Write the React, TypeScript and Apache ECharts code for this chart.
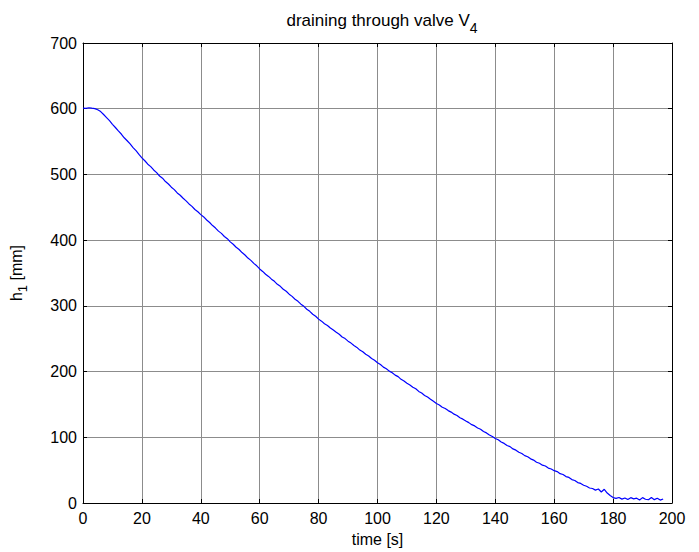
import React, { useEffect, useRef } from "react";
import * as echarts from "echarts";

const chartTitle = "draining through valve V{sub|4}";
const xAxisName = "time [s]";
const yAxisName = "h{sub|1} [mm]";
const xTicks = [0, 20, 40, 60, 80, 100, 120, 140, 160, 180, 200];
const yTicks = [0, 100, 200, 300, 400, 500, 600, 700];
const sampleStep = 1; // seconds between samples
const levelMm = [
  601.0, 600.5, 601.5, 600.8, 600.2, 598.4, 595.6, 591.2, 586.5, 581.8,
  576.3, 571.4, 566.2, 561.5, 555.8, 551.2, 546.4, 540.7, 536.1, 530.4,
  525.3, 520.8, 515.6, 511.9, 506.8, 502.7, 497.6, 494.3, 489.2, 485.4,
  480.6, 476.9, 471.8, 468.3, 463.7, 459.8, 455.1, 451.4, 446.6, 443.2,
  438.8, 435.3, 430.7, 426.9, 422.2, 418.4, 413.7, 410.3, 405.6, 402.2,
  397.4, 393.8, 389.2, 385.7, 381.1, 377.4, 372.7, 369.2, 364.6, 360.9,
  356.2, 352.4, 348.1, 344.8, 340.6, 337.3, 332.8, 329.7, 325.2, 322.3,
  317.8, 314.4, 310.1, 306.9, 302.6, 299.3, 294.8, 291.7, 287.3, 284.2,
  279.8, 276.7, 272.8, 270.2, 266.3, 263.2, 259.7, 256.8, 252.7, 250.2,
  246.3, 243.3, 239.6, 236.8, 232.7, 230.2, 226.3, 223.7, 219.8, 217.2,
  213.4, 210.7, 206.8, 204.3, 200.7, 198.2, 194.6, 192.3, 188.2, 185.7,
  182.3, 179.7, 176.2, 173.8, 169.8, 167.3, 163.7, 161.2, 157.8, 154.7,
  151.3, 149.2, 145.8, 143.7, 140.6, 138.3, 135.2, 133.1, 129.7, 127.6,
  124.8, 122.3, 119.2, 117.3, 114.2, 112.3, 108.8, 106.7, 103.6, 101.3,
  98.2, 96.3, 92.8, 90.7, 87.6, 85.8, 82.3, 80.4, 77.2, 75.3,
  72.1, 70.4, 67.2, 65.3, 62.1, 60.4, 57.6, 56.3, 53.1, 51.8,
  49.2, 47.8, 44.6, 43.4, 40.2, 38.9, 35.6, 34.3, 31.1, 29.8,
  27.1, 25.4, 22.8, 22.1, 19.6, 21.3, 16.8, 20.9, 15.2, 11.4,
  8.3, 7.1, 8.4, 5.9, 7.6, 5.2, 8.1, 6.3, 7.4, 4.6,
  8.2, 5.7, 4.9, 8.3, 5.1, 7.2, 4.4, 6.1,
];

const FONT = "'Liberation Sans', Arial, Helvetica, sans-serif";

export default function App() {
  const ref = useRef<HTMLDivElement>(null);
  useEffect(() => {
    if (!ref.current) return;
    const chart = echarts.init(ref.current, undefined, { renderer: "svg" });
    const data = levelMm.map((v, i) => [i * sampleStep, v]);
    const xMin = xTicks[0];
    const xMax = xTicks[xTicks.length - 1];
    const yMin = yTicks[0];
    const yMax = yTicks[yTicks.length - 1];
    const boxAxisCommon = {
      axisLine: { show: true, onZero: false, lineStyle: { color: "#000", width: 1 } },
      axisTick: { show: true, inside: true, length: 4, lineStyle: { color: "#000" } },
      axisLabel: { show: false },
      splitLine: { show: false },
    };
    chart.setOption({
      animation: false,
      backgroundColor: "#fff",
      title: {
        text: chartTitle,
        left: 377,
        textAlign: "center",
        top: 0,
        textStyle: {
          fontFamily: FONT,
          fontSize: 17,
          fontWeight: "normal",
          color: "#000",
          rich: {
            sub: { fontSize: 14, fontFamily: FONT, color: "#000", padding: [16, 0, 0, 0] },
          },
        },
      },
      grid: { left: 83, right: 27, top: 43, bottom: 48, containLabel: false },
      xAxis: [
        {
          type: "value",
          min: xMin,
          max: xMax,
          interval: 20,
          position: "bottom",
          name: xAxisName,
          nameLocation: "middle",
          nameGap: 28,
          nameTextStyle: { fontFamily: FONT, fontSize: 16, color: "#000" },
          axisLine: { show: true, onZero: false, lineStyle: { color: "#000", width: 1 } },
          axisTick: { show: true, inside: true, length: 4, lineStyle: { color: "#000" } },
          axisLabel: { show: true, fontFamily: FONT, fontSize: 16, color: "#000", margin: 7 },
          splitLine: { show: true, lineStyle: { color: "#8c8c8c", width: 1 } },
        },
        {
          type: "value",
          min: xMin,
          max: xMax,
          interval: 20,
          position: "top",
          ...boxAxisCommon,
        },
      ],
      yAxis: [
        {
          type: "value",
          min: yMin,
          max: yMax,
          interval: 100,
          position: "left",
          name: yAxisName,
          nameLocation: "middle",
          nameGap: 54,
          nameRotate: 90,
          nameTextStyle: {
            fontFamily: FONT,
            fontSize: 16,
            color: "#000",
            rich: {
              sub: { fontSize: 13, fontFamily: FONT, color: "#000", padding: [12, 0, 0, 0] },
            },
          },
          axisLine: { show: true, onZero: false, lineStyle: { color: "#000", width: 1 } },
          axisTick: { show: true, inside: true, length: 4, lineStyle: { color: "#000" } },
          axisLabel: { show: true, fontFamily: FONT, fontSize: 16, color: "#000", margin: 6 },
          splitLine: { show: true, lineStyle: { color: "#8c8c8c", width: 1 } },
        },
        {
          type: "value",
          min: yMin,
          max: yMax,
          interval: 100,
          position: "right",
          ...boxAxisCommon,
        },
      ],
      series: [
        {
          type: "line",
          data,
          xAxisIndex: 0,
          yAxisIndex: 0,
          showSymbol: false,
          symbol: "none",
          lineStyle: { color: "#0000ff", width: 1.2 },
          z: 5,
        },
      ],
    });
    return () => chart.dispose();
  }, []);
  return (
    <div
      ref={ref}
      style={{ position: "absolute", left: 0, top: 0, width: 699, height: 552 }}
    />
  );
}
